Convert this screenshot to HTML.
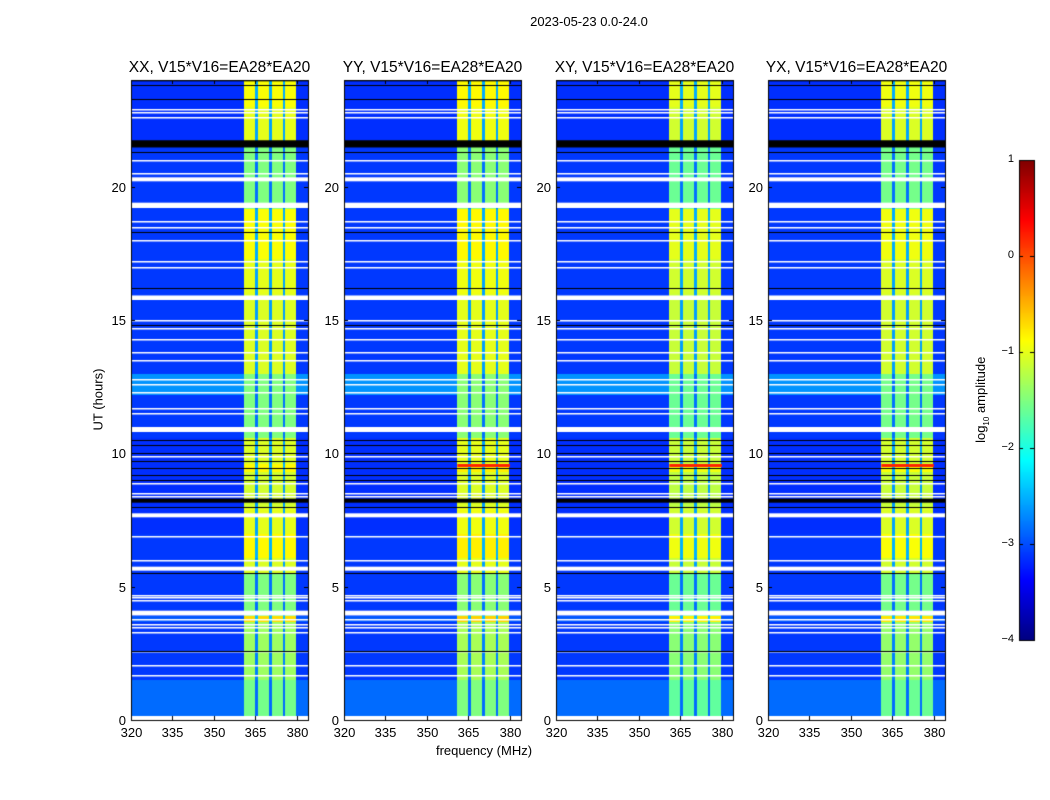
<!DOCTYPE html>
<html><head><meta charset="utf-8">
<style>
body{margin:0;background:#fff;width:1050px;height:800px;overflow:hidden;font-family:"Liberation Sans","DejaVu Sans",sans-serif;}
#wrap{position:relative;width:1050px;height:800px;}
canvas{position:absolute;left:0;top:0;}
.t{position:absolute;color:#000;white-space:nowrap;}
</style></head>
<body>
<div id="wrap">
<canvas id="cv" width="1050" height="800"></canvas>
<div class="t" style="left:489px;top:14px;width:200px;text-align:center;font-size:13px;">2023-05-23 0.0-24.0</div>
<div class="t" style="left:384px;top:743px;width:200px;text-align:center;font-size:13px;">frequency (MHz)</div>
<div class="t" style="left:48px;top:392px;width:100px;text-align:center;font-size:13px;transform:rotate(-90deg);">UT (hours)</div>
<div class="t" style="left:922px;top:391px;width:120px;text-align:center;font-size:13px;transform:rotate(-90deg);">log<sub style="font-size:8px">10</sub> amplitude</div>
</div>
<script>
// ---- data ----
const freqs = []; for (let f = 320; f < 384; f++) freqs.push(f);
const bandEdges = [360.5, 379.5];
const gapFreqs = [365, 370, 375];
const bgLevel = -3.15;
const bandLevel = -1.05;
const gapLevel = -2.6;
const segStarts = [0, 1.5, 3.7, 3.9, 5.5, 6.1, 7.0, 8.0, 9.3, 9.6, 10.6, 12.2, 13.0, 16.0, 17.3, 19.2, 21.7, 23.0];
const segBand   = [-0.5, -0.3, 0.35, -0.45, 0.0, 0.2, 0.05, -0.05, 0.2, 0.0, -0.45, -0.45, 0.0, 0.05, 0.15, -0.45, 0.05, 0.15];
const segBg     = [0.3, 0.05, 0.2, 0.05, 0.05, 0.05, 0.0, 0.0, 0.0, 0.0, 0.05, 0.5, 0.05, 0.05, 0.05, 0.05, 0.0, 0.0];
const whiteBands = [[0,0.15],[3.92,4.1],[5.6,5.75],[7.6,7.75],[10.8,10.95],[15.75,15.92],[19.2,19.4],[20.2,20.35]];
const blackBands = [[21.47,21.74],[8.15,8.3],[23.95,24]];
const whiteLines = [1.7,2.05,2.6,3.3,3.5,3.6,3.8,4.5,4.6,4.7,6.0,6.9,8.4,8.5,8.9,9.9,11.0,11.5,11.7,12.3,12.6,12.8,13.5,13.8,14.3,14.7,15.0,17.0,17.2,18.0,18.5,18.7,20.5,21.0,22.6,22.8,22.9];
const blackLines = [2.6,5.5,8.0,9.0,9.2,9.45,9.7,10.0,10.3,10.5,14.8,16.2,18.3,21.3,23.3,23.8];
const panelTitles = ["XX, V15*V16=EA28*EA20","YY, V15*V16=EA28*EA20","XY, V15*V16=EA28*EA20","YX, V15*V16=EA28*EA20"];
const panelGain = [0, 0.05, -0.1, -0.05];
const xTicks = [320, 335, 350, 365, 380];
const yTicks = [0, 5, 10, 15, 20];
const cbTicks = [1, 0, -1, -2, -3, -4];

// ---- layout ----
const panelX = [131, 344, 556, 768], PW = 177, PT = 80, PB = 720;
const fMin = 320, fMax = 384, hMin = 0, hMax = 24;
const cv = document.getElementById('cv'), ctx = cv.getContext('2d');
const wrap = document.getElementById('wrap');
function jet(v){const t=Math.max(0,Math.min(1,(v+4)/5));const c=x=>Math.round(255*Math.max(0,Math.min(1,1.5-Math.abs(4*t-x))));return `rgb(${c(3)},${c(2)},${c(1)})`;}
function colLevel(f){ if(f<bandEdges[0]||f>bandEdges[1]) return null; return gapFreqs.includes(f)?'gap':'band'; }
function label(txt,x,y,w,align,size,name){const d=document.createElement('div');d.className='t';


d.style.left=x+'px';d.style.top=y+'px';d.style.width=w+'px';d.style.textAlign=align;d.style.fontSize=size+'px';d.textContent=txt;wrap.appendChild(d);}

panelX.forEach((x0,p)=>{
  const xs=f=>x0+(f-fMin)/(fMax-fMin)*PW;
  const ys=h=>PB-(h-hMin)/(hMax-hMin)*(PB-PT);
  for(let s=0;s<segStarts.length;s++){
    const h0=segStarts[s], h1=s+1<segStarts.length?segStarts[s+1]:hMax;
    freqs.forEach(f=>{
      const k=colLevel(f); let v;
      if(k==='band') v=bandLevel+segBand[s]+panelGain[p];
      else if(k==='gap') v=gapLevel+segBand[s]*0.5;
      else v=bgLevel+segBg[s];
      ctx.fillStyle=jet(v);
      const xa=Math.floor(xs(f)), xb=Math.ceil(xs(f+1));
      const ya=Math.floor(ys(h1)), yb=Math.ceil(ys(h0));
      ctx.fillRect(xa,ya,xb-xa,yb-ya);
    });
  }
  if(p>0){ctx.fillStyle=jet(0.2);ctx.fillRect(xs(361),ys(9.6),xs(380)-xs(361),3);}
  whiteBands.forEach(b=>{ctx.fillStyle='#fff';ctx.fillRect(x0,ys(b[1]),PW,ys(b[0])-ys(b[1]));});
  blackBands.forEach(b=>{ctx.fillStyle='#000';ctx.fillRect(x0,ys(b[1]),PW,ys(b[0])-ys(b[1]));});
  whiteLines.forEach(h=>{ctx.fillStyle='#fff';ctx.fillRect(x0,Math.round(ys(h)),PW,1.5);});
  blackLines.forEach(h=>{ctx.fillStyle='#000';ctx.fillRect(x0,Math.round(ys(h)),PW,1);});
  ctx.strokeStyle='#000';ctx.lineWidth=1;ctx.strokeRect(x0+0.5,PT+0.5,PW,PB-PT);
  xTicks.forEach(t=>{const X=Math.round(xs(t))+0.5;ctx.beginPath();ctx.moveTo(X,PB);ctx.lineTo(X,PB-4);ctx.moveTo(X,PT);ctx.lineTo(X,PT+4);ctx.stroke();
    label(String(t),X-20,725,40,'center',13,'x-tick-label');});
  yTicks.forEach(t=>{const Y=Math.round(ys(t))+0.5;ctx.beginPath();ctx.moveTo(x0,Y);ctx.lineTo(x0+4,Y);ctx.moveTo(x0+PW,Y);ctx.lineTo(x0+PW-4,Y);ctx.stroke();
    label(String(t),x0-45,Y-8,40,'right',13,'y-tick-label');});
  label(panelTitles[p],x0-30,59,PW+60,'center',15.5,'panel-title');
});

// colorbar
const cbX=1019,cbW=15,cbT=160,cbB=640;
const cbY=v=>cbB-(v+4)/5*(cbB-cbT);
for(let y=cbT;y<cbB;y++){const v=-4+(cbB-y)/(cbB-cbT)*5;ctx.fillStyle=jet(v);ctx.fillRect(cbX,y,cbW,1);}
ctx.strokeStyle='#000';ctx.strokeRect(cbX+0.5,cbT+0.5,cbW,cbB-cbT);
cbTicks.forEach(t=>{const Y=Math.round(cbY(t))+0.5;ctx.beginPath();ctx.moveTo(cbX,Y);ctx.lineTo(cbX+4,Y);ctx.moveTo(cbX+cbW,Y);ctx.lineTo(cbX+cbW-4,Y);ctx.stroke();
  label(t<0?'\u2212'+(-t):String(t),cbX-45,Y-8,40,'right',11,'colorbar-tick-label');});
</script>
</body></html>
